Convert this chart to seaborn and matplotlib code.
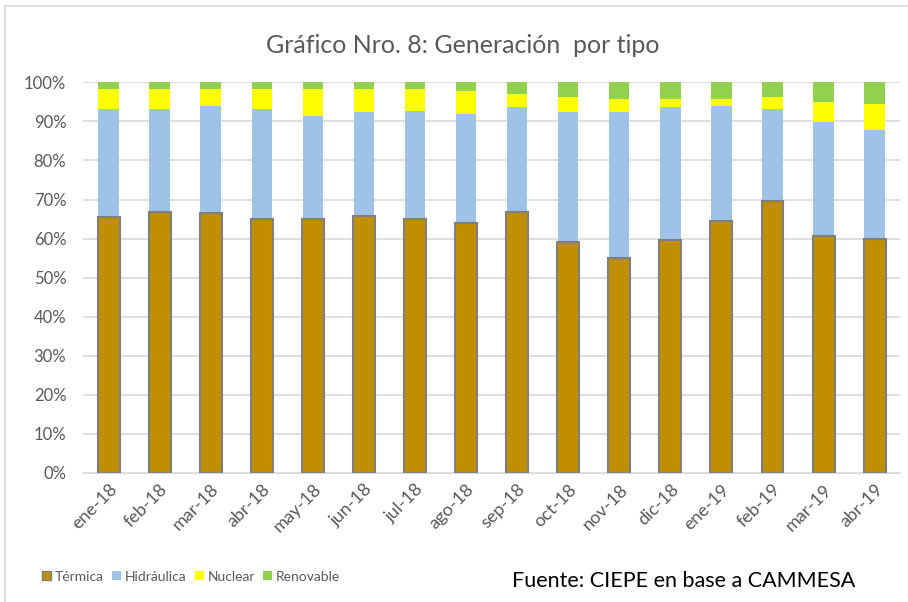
import matplotlib
matplotlib.use("Agg")
import matplotlib.pyplot as plt
import matplotlib.patches as mpatches
import seaborn as sns
import pandas as pd
from matplotlib.ticker import PercentFormatter

# Datos (participación % por tipo de generación)
meses = ["ene-18", "feb-18", "mar-18", "abr-18", "may-18", "jun-18", "jul-18", "ago-18",
         "sep-18", "oct-18", "nov-18", "dic-18", "ene-19", "feb-19", "mar-19", "abr-19"]
termica = [65.4, 66.9, 66.5, 65.0, 65.0, 65.8, 65.0, 63.9,
           66.7, 59.2, 54.9, 59.6, 64.4, 69.7, 60.7, 59.8]
hidraulica = [27.8, 26.3, 27.5, 28.2, 26.5, 26.5, 27.7, 28.0,
              26.9, 33.1, 37.4, 34.0, 29.6, 23.5, 29.1, 28.0]
nuclear = [5.0, 5.0, 4.2, 5.0, 6.7, 5.9, 5.5, 5.9,
           3.3, 3.9, 3.3, 2.0, 1.6, 3.0, 5.1, 6.6]
renovable = [1.8, 1.8, 1.8, 1.8, 1.8, 1.8, 1.8, 2.2,
             3.1, 3.8, 4.4, 4.4, 4.4, 3.8, 5.1, 5.6]

tipos = ["Térmica", "Hidráulica", "Nuclear", "Renovable"]
colores = ["#BF8F00", "#9DC3E6", "#FFFF00", "#92D050"]

df = pd.DataFrame({"mes": meses, "Térmica": termica, "Hidráulica": hidraulica,
                   "Nuclear": nuclear, "Renovable": renovable})
# acumulados para apilar
acum = df[tipos].cumsum(axis=1) / 100.0
acum["mes"] = df["mes"]

sns.set_style("white")
plt.rcParams["font.family"] = ["Lato", "DejaVu Sans"]

fig = plt.figure(figsize=(9.08, 6.02), dpi=100)
ax = fig.add_axes([0.0914, 0.2143, 0.9, 0.649])

# se dibuja de arriba hacia abajo (cada capa tapa la anterior)
for tipo, color in reversed(list(zip(tipos, colores))):
    if tipo == "Térmica":
        sns.barplot(data=acum, x="mes", y=tipo, color=color, width=0.43, ax=ax,
                    edgecolor="#7F7F7F", linewidth=1.5, saturation=1)
    else:
        sns.barplot(data=acum, x="mes", y=tipo, color=color, width=0.40, ax=ax,
                    edgecolor="none", saturation=1)

ax.set_ylim(0, 1)
ax.set_xlim(-0.5, len(meses) - 0.5)
ax.set_yticks([i / 10 for i in range(11)])
ax.yaxis.set_major_formatter(PercentFormatter(1.0, decimals=0))
ax.grid(axis="y", color="#D9D9D9", linewidth=1.2)
ax.set_axisbelow(True)
for s in ["top", "right", "left"]:
    ax.spines[s].set_visible(False)
ax.spines["bottom"].set_color("#D9D9D9")
ax.set_xlabel("")
ax.set_ylabel("")
ax.tick_params(axis="both", length=0, labelsize=12, colors="#595959")
ax.tick_params(axis="y", pad=12)
ax.tick_params(axis="x", pad=6, labelsize=13)
plt.setp(ax.get_xticklabels(), rotation=45, ha="right", rotation_mode="anchor")

fig.text(0.51, 0.925, "Gráfico Nro. 8: Generación  por tipo", ha="center", va="center",
         fontsize=18, color="#595959")

handles = [mpatches.Patch(facecolor=c, edgecolor="#7F7F7F" if t == "Térmica" else "none", label=t)
           for t, c in zip(tipos, colores)]
fig.legend(handles=handles, loc="center left", bbox_to_anchor=(0.033, 0.042), ncol=4,
           frameon=False, fontsize=10, labelcolor="#595959", handlelength=0.65,
           handleheight=0.65, handletextpad=0.25, columnspacing=0.6)

fig.text(0.564, 0.035, "Fuente: CIEPE en base a CAMMESA", ha="left", va="center",
         fontsize=15.5, color="black")

# marco exterior
fig.patches.append(mpatches.Rectangle((0.006, -0.01), 1.1, 1.0, transform=fig.transFigure,
                                      fill=False, edgecolor="#D9D9D9", linewidth=1.2))

fig.savefig("out.png", dpi=100)
